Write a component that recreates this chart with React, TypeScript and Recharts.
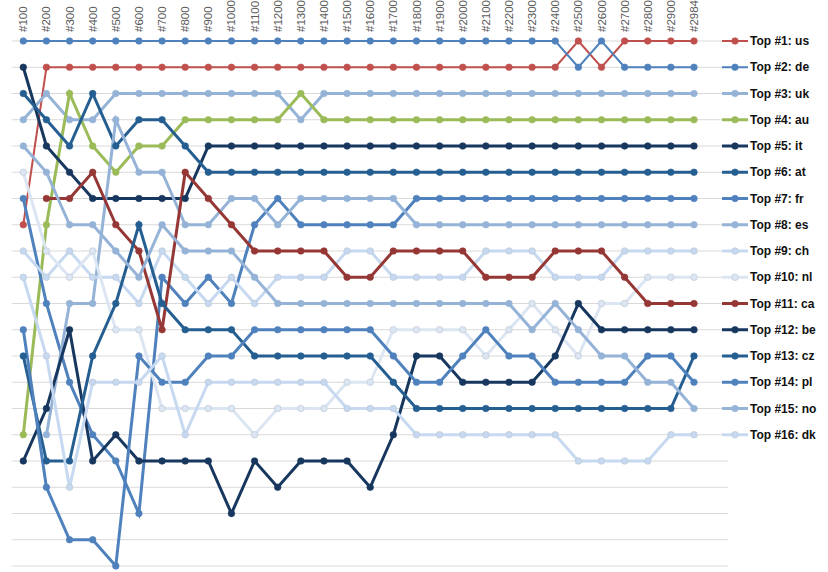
import React from 'react';
import { LineChart, Line, XAxis, YAxis, CartesianGrid } from 'recharts';

const categories = ['#100','#200','#300','#400','#500','#600','#700','#800','#900','#1000','#1100','#1200','#1300','#1400','#1500','#1600','#1700','#1800','#1900','#2000','#2100','#2200','#2300','#2400','#2500','#2600','#2700','#2800','#2900','#2984'];

const countries = ['us','de','uk','au','it','at','fr','es','ch','nl','ca','be','cz','pl','no','dk'];

const colors: Record<string, string> = {
  us: '#C0504D', de: '#4F81BD', uk: '#95B3D7', au: '#9BBB59', it: '#17375E', at: '#255E91',
  fr: '#4F81BD', es: '#95B3D7', ch: '#C6D9F1', nl: '#DCE6F2', ca: '#953735', be: '#17375E',
  cz: '#255E91', pl: '#4F81BD', no: '#95B3D7', dk: '#C6D9F1',
};

const us = [8,2,2,2,2,2,2,2,2,2,2,2,2,2,2,2,2,2,2,2,2,2,2,2,1,2,1,1,1,1];
const de = [1,1,1,1,1,1,1,1,1,1,1,1,1,1,1,1,1,1,1,1,1,1,1,1,2,1,2,2,2,2];
const uk = [4,3,4,4,3,3,3,3,3,3,3,3,4,3,3,3,3,3,3,3,3,3,3,3,3,3,3,3,3,3];
const au = [16,8,3,5,6,5,5,4,4,4,4,4,3,4,4,4,4,4,4,4,4,4,4,4,4,4,4,4,4,4];
const it = [2,5,6,7,7,7,7,7,5,5,5,5,5,5,5,5,5,5,5,5,5,5,5,5,5,5,5,5,5,5];
const at = [3,4,5,3,5,4,4,5,6,6,6,6,6,6,6,6,6,6,6,6,6,6,6,6,6,6,6,6,6,6];
const fr = [7,11,14,16,17,19,10,11,10,11,8,7,8,8,8,8,8,7,7,7,7,7,7,7,7,7,7,7,7,7];
const es = [null,16,11,11,4,6,6,8,8,7,7,8,7,7,7,7,7,8,8,8,8,8,8,8,8,8,8,8,8,8];
const ch = [9,10,9,10,10,11,9,10,11,10,11,10,10,10,9,9,10,10,10,10,9,9,9,10,10,10,9,9,9,9];
const nl = [6,9,10,9,12,12,15,15,15,15,16,15,15,15,14,14,12,12,12,12,13,12,11,12,13,11,11,10,10,10];
const ca = [null,7,7,6,8,9,12,6,7,8,9,9,9,9,10,10,9,9,9,9,10,10,10,9,9,9,10,11,11,11];
const be = [17,15,12,17,16,17,17,17,17,19,17,18,17,17,17,18,16,13,13,14,14,14,14,13,11,12,12,12,12,12];
const cz = [13,17,17,13,11,8,11,12,12,12,13,13,13,13,13,13,14,15,15,15,15,15,15,15,15,15,15,15,15,13];
const pl = [12,18,20,20,21,13,14,14,13,13,12,12,12,12,12,12,13,14,14,13,12,13,13,14,14,14,14,13,13,14];
const no = [5,6,8,8,9,10,8,9,9,9,10,11,11,11,11,11,11,11,11,11,11,11,12,11,12,13,13,14,14,15];
const dk = [10,13,18,14,14,14,13,16,14,14,14,14,14,14,15,15,15,16,16,16,16,16,16,16,17,17,17,17,16,16];

const seriesValues: Record<string, (number | null)[]> = { us, de, uk, au, it, at, fr, es, ch, nl, ca, be, cz, pl, no, dk };

const rankTicks = [1,2,3,4,5,6,7,8,9,10,11,12,13,14,15,16,17,18,19,20,21];
const legendTicks = [1,2,3,4,5,6,7,8,9,10,11,12,13,14,15,16];

const data = categories.map((c, i) => {
  const row: Record<string, any> = { cat: c };
  countries.forEach((k) => { row[k] = seriesValues[k][i]; });
  return row;
});

const widthOf = (k: string) => (k === 'us' || k === 'de' ? 2 : 3);
const paleSet = new Set(['ch', 'nl', 'dk']);

const TopTick = (props: any) => {
  const { x, y, payload } = props;
  return (
    <text transform={`translate(${x},${y}) rotate(-90)`} textAnchor="start" dy="0.35em"
      fill="#595959" fontSize={11.5} fontFamily="'Liberation Sans', Arial, sans-serif">
      {payload.value}
    </text>
  );
};

const LegendTick = (props: any) => {
  const { x, y, payload } = props;
  const k = countries[payload.value - 1];
  if (!k) return null;
  const col = colors[k];
  return (
    <g>
      <line x1={x + 28} x2={x + 54} y1={y} y2={y} stroke={col} strokeWidth={widthOf(k)} />
      <circle cx={x + 41} cy={y} r={3.3} fill={col} stroke={paleSet.has(k) ? '#B8C4D2' : col} strokeWidth={0.6} />
      <text x={x + 56} y={y} dy="0.35em" fill="#111" fontSize={12} fontWeight="bold"
        fontFamily="'Liberation Sans', Arial, sans-serif">
        {`Top #${payload.value}: ${k}`}
      </text>
    </g>
  );
};

const GridLine = (p: any) => (
  <line key={`g-${p.y1}`} x1={p.x1 - 11.6} x2={p.x2 + 34} y1={p.y1} y2={p.y2} stroke="#D9D9D9" strokeWidth={1} />
);

export default function App() {
  return (
    <div style={{ position: 'absolute', left: 0, top: 0, width: 828, height: 572, background: '#fff' }}>
      <LineChart width={828} height={572} data={data}
        margin={{ top: 0, left: 23.3, right: 0, bottom: 6 }}>
        <CartesianGrid vertical={false} horizontal={GridLine as any} />
        <XAxis dataKey="cat" orientation="top" tickLine={false} axisLine={false} interval={0}
          tickSize={0} tickMargin={9} height={41} tick={<TopTick />} padding={{ left: 0, right: 0 }} />
        <YAxis yAxisId={0} type="number" domain={[1, 21]} reversed hide ticks={rankTicks} allowDecimals={false} />
        <YAxis yAxisId="legend" orientation="right" type="number" domain={[1, 21]} reversed ticks={legendTicks}
          tickLine={false} axisLine={false} tickSize={0} tickMargin={0} width={134} interval={0}
          allowDataOverflow tick={<LegendTick />} />
        <Line yAxisId="legend" dataKey="de" stroke="none" dot={false} activeDot={false}
          isAnimationActive={false} legendType="none" />
        {countries.map((k) => (
          <Line key={k} yAxisId={0} dataKey={k} type="linear" stroke={colors[k]} strokeWidth={widthOf(k)}
            isAnimationActive={false} activeDot={false}
            dot={{ r: 3.3, fill: colors[k], stroke: paleSet.has(k) ? '#B8C4D2' : colors[k], strokeWidth: 0.6 }} />
        ))}
      </LineChart>
    </div>
  );
}
